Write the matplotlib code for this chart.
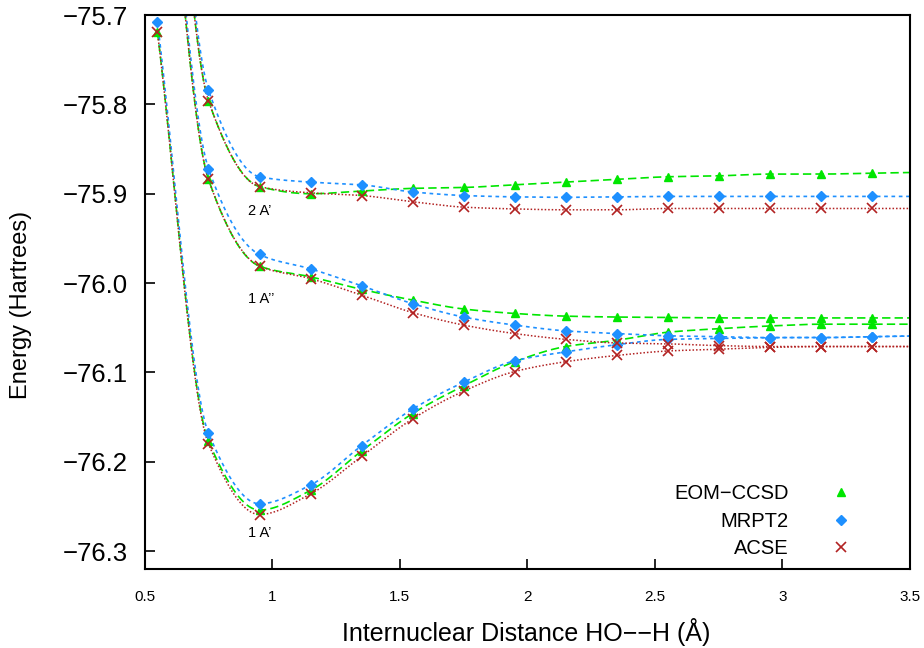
import numpy as np
import matplotlib
matplotlib.use("Agg")
import matplotlib.pyplot as plt

plt.rcParams['font.family'] = ['Liberation Sans', 'DejaVu Sans']

# bond length HO--H (Angstrom)
r = [0.55, 0.75, 0.95, 1.15, 1.35, 1.55, 1.75, 1.95, 2.15, 2.35, 2.55, 2.75, 2.95, 3.15, 3.35]

# 1 A' state
eom_1a1 = [-75.719, -76.177, -76.254, -76.232, -76.188, -76.146, -76.115, -76.088,
           -76.071, -76.064, -76.055, -76.051, -76.048, -76.046, -76.046]
mrpt_1a1 = [-75.708, -76.168, -76.247, -76.226, -76.182, -76.141, -76.111, -76.087,
            -76.077, -76.069, -76.063, -76.062, -76.061, -76.061, -76.060]
acse_1a1 = [-75.719, -76.180, -76.259, -76.236, -76.194, -76.152, -76.121, -76.099,
            -76.088, -76.081, -76.076, -76.074, -76.072, -76.071, -76.071]

# 1 A'' state
eom_1a2 = [-75.38, -75.884, -75.981, -75.993, -76.007, -76.019, -76.029, -76.034,
           -76.037, -76.038, -76.0385, -76.039, -76.039, -76.039, -76.039]
mrpt_1a2 = [-75.37, -75.872, -75.968, -75.984, -76.003, -76.023, -76.038, -76.047,
            -76.0535, -76.0565, -76.059, -76.060, -76.061, -76.061, -76.060]
acse_1a2 = [-75.38, -75.884, -75.981, -75.995, -76.0135, -76.033, -76.047, -76.0565,
            -76.063, -76.067, -76.068, -76.070, -76.071, -76.071, -76.071]

# 2 A' state
eom_2a1 = [-75.25, -75.796, -75.892, -75.900, -75.897, -75.894, -75.893, -75.890,
           -75.887, -75.884, -75.881, -75.880, -75.878, -75.878, -75.877]
mrpt_2a1 = [-75.24, -75.784, -75.881, -75.887, -75.890, -75.898, -75.902, -75.9035,
            -75.904, -75.9035, -75.903, -75.903, -75.903, -75.903, -75.903]
acse_2a1 = [-75.25, -75.796, -75.892, -75.899, -75.902, -75.909, -75.915, -75.917,
            -75.918, -75.918, -75.9165, -75.9165, -75.9165, -75.9165, -75.9165]

state_labels = ["1 A\u2019", "1 A\u2019\u2019", "2 A\u2019"]
state_label_y = [-76.280, -76.018, -75.9195]


def smooth(x, y, xs):
    # monotone cubic hermite curve through the points (no overshoot)
    x = np.asarray(x, float)
    y = np.asarray(y, float)
    h = np.diff(x)
    s = np.diff(y) / h
    d = np.zeros_like(y)
    for i in range(1, len(x) - 1):
        if s[i - 1] * s[i] > 0:
            w1 = 2 * h[i] + h[i - 1]
            w2 = h[i] + 2 * h[i - 1]
            d[i] = (w1 + w2) / (w1 / s[i - 1] + w2 / s[i])
    d[0] = s[0]
    d[-1] = s[-1]
    k = np.clip(np.searchsorted(x, xs) - 1, 0, len(x) - 2)
    inside = xs <= x[-1]
    t = (xs - x[k]) / h[k]
    h00 = 2 * t**3 - 3 * t**2 + 1
    h10 = t**3 - 2 * t**2 + t
    h01 = -2 * t**3 + 3 * t**2
    h11 = t**3 - t**2
    out = h00 * y[k] + h10 * h[k] * d[k] + h01 * y[k + 1] + h11 * h[k] * d[k + 1]
    out[~inside] = y[-1] + d[-1] * (xs[~inside] - x[-1])
    return out


green = '#00e600'
blue = '#1e90ff'
red = '#b22222'

fig = plt.figure(figsize=(9.24, 6.48), dpi=100)
ax = fig.add_axes([0.1566, 0.1219, 0.8283, 0.8549])

states = [(eom_1a1, mrpt_1a1, acse_1a1), (eom_1a2, mrpt_1a2, acse_1a2), (eom_2a1, mrpt_2a1, acse_2a1)]

xs = np.linspace(0.55, 3.5, 800)
for e, m, a in states:
    ax.plot(xs, smooth(r, e, xs), color=green, lw=1.2, dashes=(5, 2.5))
    ax.plot(xs, smooth(r, m, xs), color=blue, lw=1.2, dashes=(2.2, 2.2))
    ax.plot(xs, smooth(r, a, xs), color=red, lw=1.1, dashes=(1, 1.3))

for i, (e, m, a) in enumerate(states):
    ax.plot(r, e, ls='none', marker='^', ms=6, color=green, mec=green, label='EOM\u2212CCSD' if i == 0 else None)
    ax.plot(r, m, ls='none', marker='D', ms=5, color=blue, mec=blue, label='MRPT2' if i == 0 else None)
    ax.plot(r, a, ls='none', marker='x', ms=7, mew=1.2, color=red, label='ACSE' if i == 0 else None)

for lab, y in zip(state_labels, state_label_y):
    ax.text(0.905, y, lab, fontsize=10.5, ha='left', va='center')

ax.set_xlim(0.5, 3.5)
ax.set_ylim(-76.32, -75.7)
ax.set_xticks([0.5, 1, 1.5, 2, 2.5, 3, 3.5])
ax.set_xticklabels(['0.5', '1', '1.5', '2', '2.5', '3', '3.5'])
ax.set_yticks([-75.7, -75.8, -75.9, -76.0, -76.1, -76.2, -76.3])
ax.set_yticklabels(['\u221275.7', '\u221275.8', '\u221275.9', '\u221276.0', '\u221276.1', '\u221276.2', '\u221276.3'])
ax.tick_params(axis='x', direction='in', length=7, width=1.2, labelsize=11, pad=15)
ax.tick_params(axis='y', direction='in', length=7, width=1.2, labelsize=18.5, pad=12)
for s in ax.spines.values():
    s.set_linewidth(1.5)

fig.text(526 / 924, 1 - 632 / 648, 'Internuclear Distance HO\u2212\u2212H (\u00c5)',
         fontsize=18, ha='center', va='center')
fig.text(21 / 924, 1 - 305 / 648, 'Energy (Hartrees)', fontsize=17, rotation=90,
         ha='center', va='center')

leg = ax.legend(loc='upper right', bbox_to_anchor=(0.923, 0.153), frameon=False,
                markerfirst=False, fontsize=14.5, handlelength=1.0, handletextpad=2.1,
                labelspacing=0.42, borderpad=0, borderaxespad=0)

fig.savefig('out.png', dpi=100)
